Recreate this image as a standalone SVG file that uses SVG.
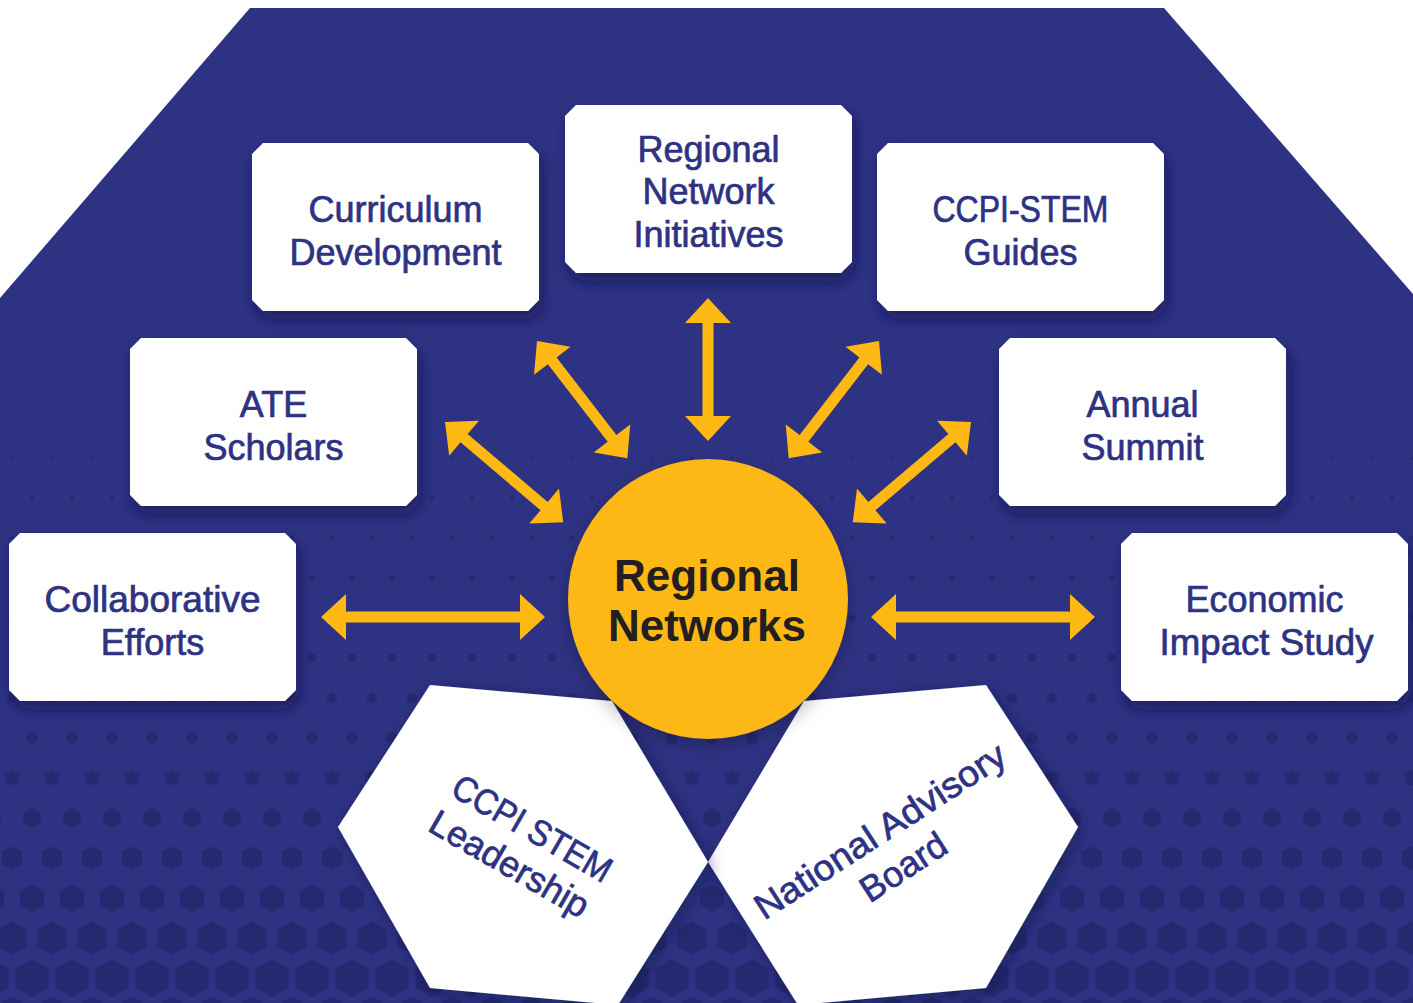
<svg xmlns="http://www.w3.org/2000/svg" xmlns:xlink="http://www.w3.org/1999/xlink" width="1413" height="1003" viewBox="0 0 1413 1003">
<style>
.box{fill:#ffffff;filter:url(#bshadow)}
.lbl{font-family:"Liberation Sans",Arial,sans-serif;font-size:36px;fill:#2e3283;stroke:#2e3283;stroke-width:0.7px;text-anchor:middle}
.hl{font-family:"Liberation Sans",Arial,sans-serif;font-size:36px;fill:#2e3283;stroke:#2e3283;stroke-width:0.7px;text-anchor:middle}
.ctr{font-family:"Liberation Sans",Arial,sans-serif;font-size:44px;font-weight:bold;fill:#231f20;text-anchor:middle}
.arr{fill:#fdb813}
.hx{fill:#262970}
</style>
<defs>
<filter id="bshadow" x="-20%" y="-20%" width="140%" height="150%">
<feDropShadow dx="3" dy="8" stdDeviation="7" flood-color="#15174a" flood-opacity="0.6"/>
</filter>
<filter id="hshadow" x="-20%" y="-20%" width="140%" height="140%">
<feDropShadow dx="4" dy="4" stdDeviation="8" flood-color="#101235" flood-opacity="0.45"/>
</filter>
<filter id="cshadow" x="-20%" y="-20%" width="140%" height="140%">
<feDropShadow dx="0" dy="6" stdDeviation="9" flood-color="#000000" flood-opacity="0.25"/>
</filter>
<polygon id="hx" points="0,-1 0.866,-0.5 0.866,0.5 0,1 -0.866,0.5 -0.866,-0.5"/>
<pattern id="p10" patternUnits="userSpaceOnUse" x="12" y="388" width="40" height="60"><use xlink:href="#hx" href="#hx" class="hx" transform="translate(20 30) scale(1)"/></pattern>
<pattern id="p11" patternUnits="userSpaceOnUse" x="-8" y="428" width="40" height="60"><use xlink:href="#hx" href="#hx" class="hx" transform="translate(20 30) scale(1.6)"/></pattern>
<pattern id="p12" patternUnits="userSpaceOnUse" x="12" y="468" width="40" height="60"><use xlink:href="#hx" href="#hx" class="hx" transform="translate(20 30) scale(2.2)"/></pattern>
<pattern id="p13" patternUnits="userSpaceOnUse" x="-8" y="508" width="40" height="60"><use xlink:href="#hx" href="#hx" class="hx" transform="translate(20 30) scale(2.8)"/></pattern>
<pattern id="p14" patternUnits="userSpaceOnUse" x="12" y="548" width="40" height="60"><use xlink:href="#hx" href="#hx" class="hx" transform="translate(20 30) scale(3.3)"/></pattern>
<pattern id="p15" patternUnits="userSpaceOnUse" x="-8" y="588" width="40" height="60"><use xlink:href="#hx" href="#hx" class="hx" transform="translate(20 30) scale(4)"/></pattern>
<pattern id="p16" patternUnits="userSpaceOnUse" x="12" y="628" width="40" height="60"><use xlink:href="#hx" href="#hx" class="hx" transform="translate(20 30) scale(4.8)"/></pattern>
<pattern id="p17" patternUnits="userSpaceOnUse" x="-8" y="668" width="40" height="60"><use xlink:href="#hx" href="#hx" class="hx" transform="translate(20 30) scale(5.6)"/></pattern>
<pattern id="p18" patternUnits="userSpaceOnUse" x="12" y="708" width="40" height="60"><use xlink:href="#hx" href="#hx" class="hx" transform="translate(20 30) scale(6.5)"/></pattern>
<pattern id="p19" patternUnits="userSpaceOnUse" x="-8" y="748" width="40" height="60"><use xlink:href="#hx" href="#hx" class="hx" transform="translate(20 30) scale(8)"/></pattern>
<pattern id="p20" patternUnits="userSpaceOnUse" x="12" y="788" width="40" height="60"><use xlink:href="#hx" href="#hx" class="hx" transform="translate(20 30) scale(10)"/></pattern>
<pattern id="p21" patternUnits="userSpaceOnUse" x="-8" y="828" width="40" height="60"><use xlink:href="#hx" href="#hx" class="hx" transform="translate(20 30) scale(12)"/></pattern>
<pattern id="p22" patternUnits="userSpaceOnUse" x="12" y="868" width="40" height="60"><use xlink:href="#hx" href="#hx" class="hx" transform="translate(20 30) scale(14)"/></pattern>
<pattern id="p23" patternUnits="userSpaceOnUse" x="-8" y="908" width="40" height="60"><use xlink:href="#hx" href="#hx" class="hx" transform="translate(20 30) scale(17)"/></pattern>
<pattern id="p24" patternUnits="userSpaceOnUse" x="12" y="948" width="40" height="60"><use xlink:href="#hx" href="#hx" class="hx" transform="translate(20 30) scale(19.2)"/></pattern>
<pattern id="p25" patternUnits="userSpaceOnUse" x="-8" y="988" width="40" height="60"><use xlink:href="#hx" href="#hx" class="hx" transform="translate(20 30) scale(21.5)"/></pattern>
</defs>

<rect x="0" y="0" width="1413" height="1003" fill="#ffffff"/>
<g id="background">
<polygon points="250,8 1164,8 1413,294 1413,1003 0,1003 0,298" fill="#2e3283"/>
<rect x="0" y="388" width="1413" height="60" fill="url(#p10)"/>
<rect x="0" y="428" width="1413" height="60" fill="url(#p11)"/>
<rect x="0" y="468" width="1413" height="60" fill="url(#p12)"/>
<rect x="0" y="508" width="1413" height="60" fill="url(#p13)"/>
<rect x="0" y="548" width="1413" height="60" fill="url(#p14)"/>
<rect x="0" y="588" width="1413" height="60" fill="url(#p15)"/>
<rect x="0" y="628" width="1413" height="60" fill="url(#p16)"/>
<rect x="0" y="668" width="1413" height="60" fill="url(#p17)"/>
<rect x="0" y="708" width="1413" height="60" fill="url(#p18)"/>
<rect x="0" y="748" width="1413" height="60" fill="url(#p19)"/>
<rect x="0" y="788" width="1413" height="60" fill="url(#p20)"/>
<rect x="0" y="828" width="1413" height="60" fill="url(#p21)"/>
<rect x="0" y="868" width="1413" height="60" fill="url(#p22)"/>
<rect x="0" y="908" width="1413" height="60" fill="url(#p23)"/>
<rect x="0" y="948" width="1413" height="60" fill="url(#p24)"/>
<rect x="0" y="988" width="1413" height="60" fill="url(#p25)"/>
</g>

<g id="node-curriculum">
<polygon class="box" points="263,143 528,143 539,154 539,300 528,311 263,311 252,300 252,154"/>
<text class="lbl" x="395.5" y="222">Curriculum</text>
<text class="lbl" x="395.5" y="265">Development</text>
</g>
<g id="node-rni">
<polygon class="box" points="576,105 841,105 852,116 852,262 841,273 576,273 565,262 565,116"/>
<text class="lbl" x="708.5" y="162">Regional</text>
<text class="lbl" x="708.5" y="204">Network</text>
<text class="lbl" x="708.5" y="247">Initiatives</text>
</g>
<g id="node-guides">
<polygon class="box" points="888,143 1153,143 1164,154 1164,300 1153,311 888,311 877,300 877,154"/>
<text class="lbl" x="1020.5" y="222" textLength="176" lengthAdjust="spacingAndGlyphs">CCPI-STEM</text>
<text class="lbl" x="1020.5" y="265">Guides</text>
</g>
<g id="node-ate">
<polygon class="box" points="141,338 406,338 417,349 417,495 406,506 141,506 130,495 130,349"/>
<text class="lbl" x="273.5" y="417">ATE</text>
<text class="lbl" x="273.5" y="460">Scholars</text>
</g>
<g id="node-summit">
<polygon class="box" points="1010,338 1275,338 1286,349 1286,495 1275,506 1010,506 999,495 999,349"/>
<text class="lbl" x="1142.5" y="417">Annual</text>
<text class="lbl" x="1142.5" y="460">Summit</text>
</g>
<g id="node-collab">
<polygon class="box" points="20,533 285,533 296,544 296,690 285,701 20,701 9,690 9,544"/>
<text class="lbl" x="152.5" y="612" textLength="216" lengthAdjust="spacingAndGlyphs">Collaborative</text>
<text class="lbl" x="152.5" y="655">Efforts</text>
</g>
<g id="node-economic">
<polygon class="box" points="1132,533 1397,533 1408,544 1408,690 1397,701 1132,701 1121,690 1121,544"/>
<text class="lbl" x="1264.5" y="612">Economic</text>
<text class="lbl" x="1266.5" y="655" textLength="214" lengthAdjust="spacingAndGlyphs">Impact Study</text>
</g>

<g id="connectors">
<path class="arr" transform="translate(708 298) rotate(90)" d="M0,0 L25,-23 V-5.5 H118 V-23 L143,0 L118,23 V5.5 H25 V23 Z"/>
<path class="arr" transform="translate(321 617)" d="M0,0 L25,-23 V-5.5 H199 V-23 L224,0 L199,23 V5.5 H25 V23 Z"/>
<path class="arr" transform="translate(871 617)" d="M0,0 L25,-23 V-5.5 H199 V-23 L224,0 L199,23 V5.5 H25 V23 Z"/>
<path class="arr" transform="translate(537 341) rotate(52.4)" d="M0,0 L25,-23 V-5.5 H123 V-23 L148,0 L123,23 V5.5 H25 V23 Z"/>
<path class="arr" transform="translate(879 341) rotate(127.6)" d="M0,0 L25,-23 V-5.5 H123 V-23 L148,0 L123,23 V5.5 H25 V23 Z"/>
<path class="arr" transform="translate(445 422) rotate(40.3)" d="M0,0 L25,-23 V-5.5 H130 V-23 L155,0 L130,23 V5.5 H25 V23 Z"/>
<path class="arr" transform="translate(971 422) rotate(139.7)" d="M0,0 L25,-23 V-5.5 H130 V-23 L155,0 L130,23 V5.5 H25 V23 Z"/>
</g>

<g id="node-advisory">
<polygon points="986,685 804,701 708,862 798,1005 986,988 1078,827" fill="#ffffff" filter="url(#hshadow)"/>
<g transform="translate(891 848) rotate(-33)">
<text class="hl" x="0" y="-8" textLength="292" lengthAdjust="spacingAndGlyphs">National Advisory</text>
<text class="hl" x="0" y="35">Board</text>
</g>
</g>
<g id="node-leadership">
<polygon points="430,685 612,701 708,862 618,1005 430,988 338,827" fill="#ffffff" filter="url(#hshadow)"/>
<g transform="translate(522 846) rotate(30)">
<text class="hl" x="0" y="-8" textLength="178" lengthAdjust="spacingAndGlyphs">CCPI STEM</text>
<text class="hl" x="-2" y="34">Leadership</text>
</g>
</g>

<g id="node-center">
<circle cx="708" cy="599" r="140" fill="#fdb813" filter="url(#cshadow)"/>
<text class="ctr" x="707" y="591">Regional</text>
<text class="ctr" x="707" y="641">Networks</text>
</g>
</svg>
